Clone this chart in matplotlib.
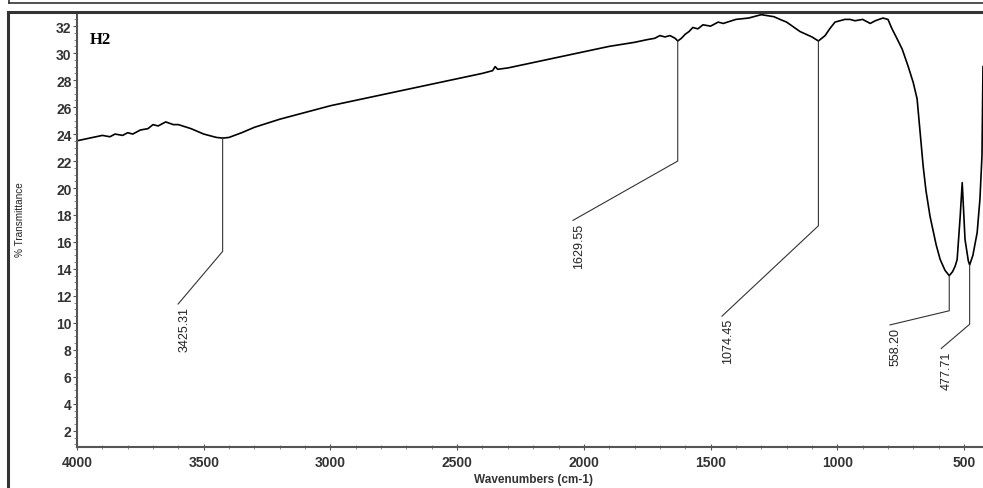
import numpy as np
import matplotlib
matplotlib.use("Agg")
import matplotlib.pyplot as plt
from matplotlib.lines import Line2D

# spectrum (cm-1, %T)
wavenumber = [4000, 3950, 3900, 3870, 3850, 3820, 3800, 3780, 3750, 3720,
              3700, 3680, 3650, 3620, 3600, 3550, 3500, 3450, 3425, 3400,
              3350, 3300, 3200, 3100, 3000, 2900, 2800, 2700, 2600, 2500,
              2400, 2360, 2350, 2340, 2300, 2200, 2100, 2000, 1900, 1800,
              1750, 1720, 1700, 1680, 1660, 1640, 1629.55, 1615, 1600, 1585,
              1570, 1550, 1530, 1500, 1470, 1450, 1400, 1350, 1300, 1250,
              1226, 1200, 1147, 1100, 1074.45, 1048, 1030, 1009, 970, 950,
              930, 900, 870, 850, 820, 800, 784, 765, 744, 720,
              700, 685, 661, 650, 634, 610, 594, 575, 558.2, 545,
              535, 527, 515, 507, 496, 483, 477.71, 465, 448, 437,
              429, 425]
transmittance = [23.5, 23.7, 23.9, 23.8, 24.0, 23.9, 24.1, 24.0, 24.3, 24.4,
                 24.7, 24.6, 24.9, 24.7, 24.7, 24.4, 24.0, 23.75, 23.7, 23.75,
                 24.1, 24.5, 25.1, 25.6, 26.1, 26.5, 26.9, 27.3, 27.7, 28.1,
                 28.5, 28.7, 29.0, 28.8, 28.9, 29.3, 29.7, 30.1, 30.5, 30.8,
                 31.0, 31.1, 31.3, 31.2, 31.3, 31.1, 30.9, 31.1, 31.4, 31.6,
                 31.9, 31.8, 32.1, 32.0, 32.3, 32.2, 32.5, 32.6, 32.85, 32.7,
                 32.5, 32.3, 31.6, 31.2, 30.9, 31.3, 31.8, 32.3, 32.5, 32.5,
                 32.4, 32.5, 32.2, 32.4, 32.6, 32.5, 31.8, 31.1, 30.3, 29.0,
                 27.8, 26.6, 21.6, 19.8, 17.9, 15.8, 14.7, 13.9, 13.5, 13.8,
                 14.2, 14.7, 17.9, 20.4, 16.2, 14.6, 14.3, 15.0, 16.7, 19.2,
                 22.4, 29.0]

peak_pos = [3425.31, 1629.55, 1074.45, 558.20, 477.71]
peak_labels = ["3425.31", "1629.55", "1074.45", "558.20", "477.71"]

# label leader lines: (elbow %T, label end wavenumber, label end %T)
leaders = [(15.3, 3601, 11.4), (22.0, 2043, 17.6), (17.2, 1455, 10.5),
           (10.9, 792, 9.85), (9.9, 590, 8.1)]

fig = plt.figure(figsize=(9.83, 4.89), dpi=100)
ax = fig.add_axes([77 / 983, 41 / 489, 906 / 983, 433 / 489])

ax.plot(wavenumber, transmittance, color="black", lw=1.2)

x_rev = wavenumber[::-1]
y_rev = transmittance[::-1]
for pos, lab, (yel, xl, yl) in zip(peak_pos, peak_labels, leaders):
    ypk = np.interp(pos, x_rev, y_rev)
    ax.plot([pos, pos, xl], [ypk, yel, yl], color="#333333", lw=0.8)
    ax.text(xl, yl - 0.15, lab, rotation=90, ha="left", va="top",
            fontsize=9, family="Liberation Sans", color="#222222")

ax.set_xlim(4000, 425)
ax.set_ylim(0.8, 32.9)
ax.set_xticks([4000, 3500, 3000, 2500, 2000, 1500, 1000, 500])
ax.set_xticks(np.arange(500, 4001, 100), minor=True)
ax.set_yticks(np.arange(2, 33, 2))
ax.set_yticks(np.arange(1, 33, 0.5), minor=True)

for s in ["top", "right"]:
    ax.spines[s].set_visible(False)
for s in ["left", "bottom"]:
    ax.spines[s].set_color("#555555")
    ax.spines[s].set_linewidth(1.5)

ax.tick_params(axis="y", which="major", direction="out", length=3, color="#555555",
               labelsize=10, labelcolor="#333333", pad=1)
ax.tick_params(axis="y", which="minor", direction="out", length=2, color="#777777")
ax.tick_params(axis="x", which="major", direction="inout", length=5, color="#555555",
               labelsize=10, labelcolor="#333333", pad=3)
ax.tick_params(axis="x", which="minor", direction="inout", length=3, color="#777777")
for t in ax.get_xticklabels() + ax.get_yticklabels():
    t.set_fontweight("bold")
    t.set_family("Liberation Sans")

ax.text(0.014, 0.96, "H2", transform=ax.transAxes, family="Liberation Serif",
        fontweight="bold", fontsize=12, ha="left", va="top")

fig.text(20 / 983, 1 - 220 / 489, "% Transmittance", rotation=90, ha="center",
         va="center", fontsize=7.2, family="Liberation Sans", color="#222222")
fig.text(533 / 983, 1 - 480 / 489, "Wavenumbers (cm-1)", ha="center", va="center",
         fontsize=8.5, fontweight="bold", family="Liberation Sans", color="#333333")

# picture frame
fig.add_artist(Line2D([8 / 983, 1], [1 - 13 / 489] * 2, color="#333333", lw=2.2,
                      transform=fig.transFigure))
fig.add_artist(Line2D([8 / 983] * 2, [0, 1 - 13 / 489], color="#333333", lw=2.2,
                      transform=fig.transFigure))
fig.add_artist(Line2D([9 / 983, 1], [1 - 4 / 489] * 2, color="#333333", lw=1.2,
                      transform=fig.transFigure))
fig.add_artist(Line2D([9 / 983] * 2, [1 - 4 / 489, 1], color="#333333", lw=1.2,
                      transform=fig.transFigure))

fig.savefig("out.png", dpi=100)
